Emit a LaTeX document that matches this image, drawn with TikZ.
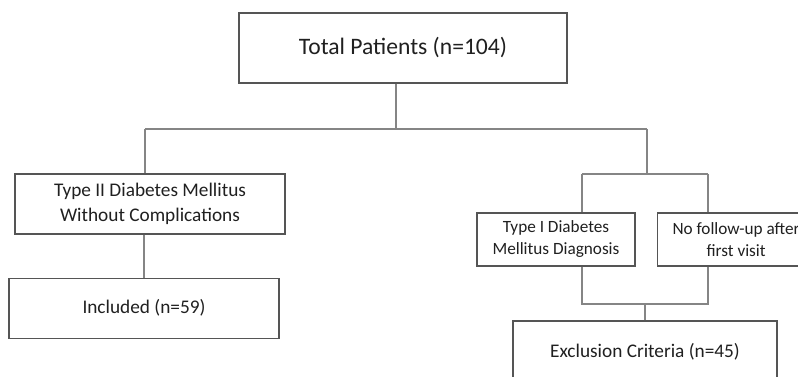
\documentclass[tikz,border=0pt]{standalone}
\usepackage{fontspec}
\setmainfont{Carlito}
\usetikzlibrary{positioning}
\definecolor{boxline}{HTML}{555555}
\definecolor{linkline}{HTML}{858585}
\definecolor{boxtext}{HTML}{202020}
\tikzset{box/.style={rectangle,draw=boxline,line width=1.1pt,fill=white,text=boxtext,align=center,inner sep=0pt,
                     font=\fontsize{19.3}{24.5}\selectfont},
         big box/.style={box,font=\fontsize{23.6}{28}\selectfont},
         small box/.style={box,minimum width=158pt,minimum height=53pt,font=\fontsize{17.2}{22}\selectfont},
         link/.style={draw=linkline,line width=1.3pt}
}
\begin{document}
\begin{tikzpicture}[x=1pt,y=-1pt]
\useasboundingbox (0,0) rectangle (798,377);
\node[big box,minimum width=328pt,minimum height=70pt] (total) at (403,48) {Total Patients (n=104)};
\node[box,minimum width=270pt,minimum height=60pt] (type2) at (150,204) {Type II Diabetes Mellitus\\Without Complications};
\node[box,minimum width=270pt,minimum height=60pt,below=43pt of type2,xshift=-6pt] (incl) {Included (n=59)};
\node[small box] (type1) at (556,239.5) {Type I Diabetes\\Mellitus Diagnosis};
\node[small box,right=21pt of type1] (nofu) {No follow-up after\\first visit};
\node[box,minimum width=264pt,minimum height=62pt] (excl) at (645,352) {Exclusion Criteria (n=45)};
% split from the top box
\coordinate (j0) at (396,129);
\coordinate (jl) at (145,129);
\coordinate (jr) at (647,129);
\draw[link] (total.south -| j0) -- (j0);
\draw[link] (jl) -- (jr);
\draw[link] (jl) -- (jl |- type2.north);
\draw[link] (type2.south -| incl.north) -- (incl.north);
% exclusion branch
\coordinate (kl) at (582,174);
\coordinate (kr) at (708,174);
\draw[link] (jr) -- (jr |- kl);
\draw[link] (kl) -- (kr);
\draw[link] (kl) -- (kl |- type1.north);
\draw[link] (kr) -- (kr |- nofu.north);
\coordinate (ml) at (582,304);
\coordinate (mr) at (708,304);
\draw[link] (type1.south -| ml) -- (ml) -- (mr) -- (nofu.south -| mr);
\draw[link] (excl.north) -- (excl.north |- ml);
\end{tikzpicture}
\end{document}
